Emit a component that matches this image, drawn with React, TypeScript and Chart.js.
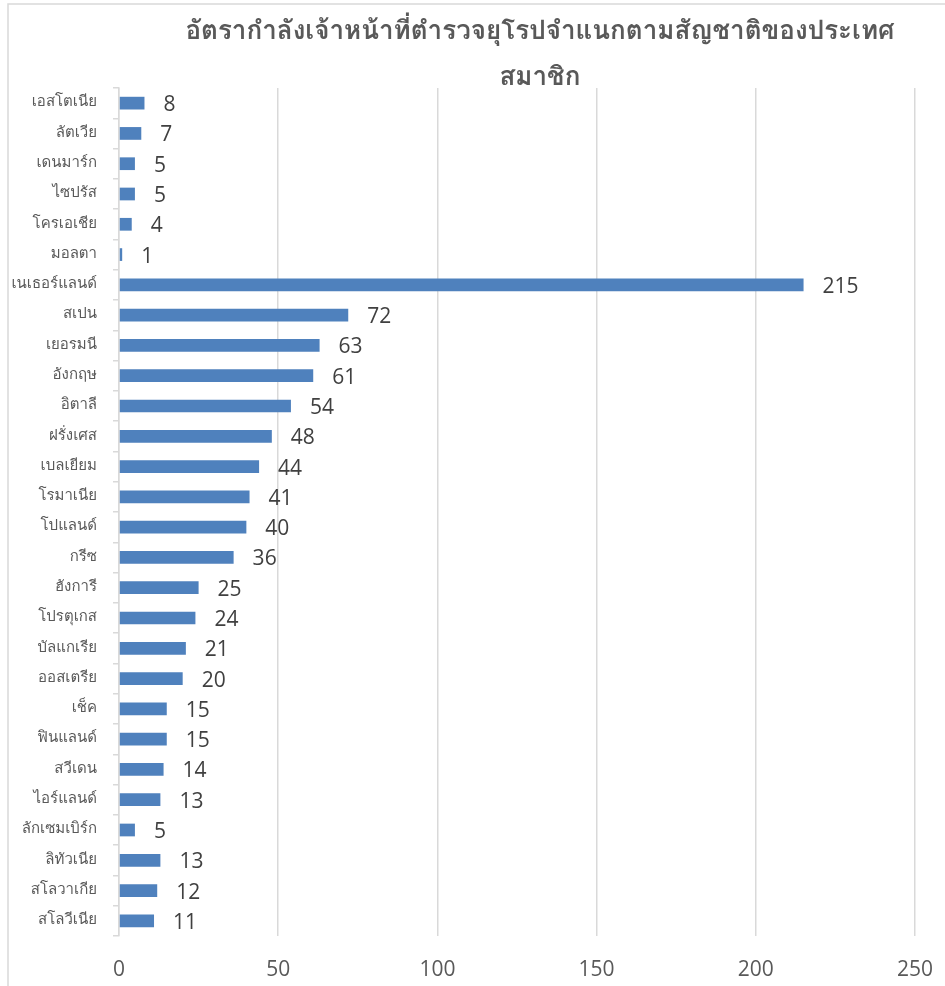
import React, { useEffect, useRef } from "react";
import { Chart, registerables } from "chart.js";

Chart.register(...registerables);

const categories: string[] = [
  "เอสโตเนีย", "ลัตเวีย", "เดนมาร์ก", "ไซปรัส", "โครเอเชีย", "มอลตา",
  "เนเธอร์แลนด์", "สเปน", "เยอรมนี", "อังกฤษ", "อิตาลี", "ฝรั่งเศส",
  "เบลเยียม", "โรมาเนีย", "โปแลนด์", "กรีซ", "ฮังการี", "โปรตุเกส",
  "บัลแกเรีย", "ออสเตรีย", "เช็ค", "ฟินแลนด์", "สวีเดน", "ไอร์แลนด์",
  "ลักเซมเบิร์ก", "ลิทัวเนีย", "สโลวาเกีย", "สโลวีเนีย",
];

const officers: number[] = [
  8, 7, 5, 5, 4, 1, 215, 72, 63, 61, 54, 48, 44, 41, 40, 36, 25, 24, 21, 20,
  15, 15, 14, 13, 5, 13, 12, 11,
];

const titleLines: string[] = [
  "อัตรากำลังเจ้าหน้าที่ตำรวจยุโรปจำแนกตามสัญชาติของประเทศ",
  "สมาชิก",
];

const xMin = 0;
const xMax = 250;
const xStep = 50;

const THAI_FONT = "Loma, Garuda, 'Noto Sans Thai Looped', 'Noto Sans Thai', Tahoma, 'Noto Sans', sans-serif";
const NUM_FONT = "'Open Sans', 'Noto Sans', sans-serif";

export default function App() {
  const ref = useRef<HTMLCanvasElement | null>(null);

  useEffect(() => {
    document.body.style.margin = "0";
    const canvas = ref.current;
    if (!canvas) return;

    const framePlugin = {
      id: "frame",
      beforeDraw(chart: any) {
        const ctx = chart.ctx;
        ctx.save();
        ctx.fillStyle = "#ffffff";
        ctx.fillRect(0, 0, chart.width, chart.height);
        ctx.strokeStyle = "#d9d9d9";
        ctx.lineWidth = 1.5;
        ctx.beginPath();
        ctx.moveTo(8, chart.height);
        ctx.lineTo(8, 4);
        ctx.lineTo(chart.width, 4);
        ctx.stroke();
        ctx.restore();
      },
      afterDraw(chart: any) {
        const ctx = chart.ctx;
        ctx.save();
        ctx.fillStyle = "#595959";
        ctx.font = `600 26px ${THAI_FONT}`;
        ctx.textAlign = "center";
        ctx.textBaseline = "middle";
        ctx.fillText(titleLines[0], 540, 33);
        ctx.fillText(titleLines[1], 540, 79);
        ctx.restore();
      },
    };

    const labelPlugin = {
      id: "barLabels",
      afterDatasetsDraw(chart: any) {
        const ctx = chart.ctx;
        const meta = chart.getDatasetMeta(0);
        ctx.save();
        ctx.fillStyle = "#404040";
        ctx.font = `21px ${NUM_FONT}`;
        ctx.textAlign = "left";
        ctx.textBaseline = "middle";
        meta.data.forEach((bar: any, i: number) => {
          ctx.fillText(String(officers[i]), bar.x + 19, bar.y + 2);
        });
        ctx.restore();
      },
    };

    const chart = new Chart(canvas, {
      type: "bar",
      data: {
        labels: categories,
        datasets: [
          {
            data: officers,
            backgroundColor: "#4f81bd",
            borderWidth: 0,
            barPercentage: 0.42,
            categoryPercentage: 1,
          },
        ],
      },
      options: {
        indexAxis: "y",
        responsive: false,
        animation: false,
        devicePixelRatio: 1,
        layout: { padding: { top: 88, right: 30, left: 0, bottom: 0 } },
        plugins: {
          legend: { display: false },
          title: { display: false },
          tooltip: { enabled: false },
        },
        scales: {
          x: {
            type: "linear",
            min: xMin,
            max: xMax,
            ticks: {
              stepSize: xStep,
              color: "#595959",
              font: { family: NUM_FONT, size: 21 },
              padding: 21,
            },
            grid: {
              color: "#d9d9d9",
              lineWidth: 1.5,
              drawTicks: false,
            },
            border: { display: false },
            afterFit(scale: any) {
              scale.height = 50;
              scale.paddingLeft = 0;
              scale.paddingRight = 0;
            },
          },
          y: {
            type: "category",
            ticks: {
              color: "#595959",
              font: { family: THAI_FONT, size: 15 },
              padding: 16,
              autoSkip: false,
            },
            grid: {
              drawOnChartArea: false,
              drawTicks: true,
              tickLength: 6,
              color: "#d9d9d9",
              lineWidth: 1.5,
              offset: true,
            },
            border: { display: true, color: "#d9d9d9", width: 1.5 },
            afterFit(scale: any) {
              scale.width = 119;
              scale.paddingTop = 0;
              scale.paddingBottom = 0;
            },
          },
        },
      },
      plugins: [framePlugin, labelPlugin],
    });

    return () => chart.destroy();
  }, []);

  return (
    <div style={{ width: 945, height: 986, overflow: "hidden" }}>
      <canvas ref={ref} width={945} height={986} style={{ display: "block", width: 945, height: 986 }} />
    </div>
  );
}
